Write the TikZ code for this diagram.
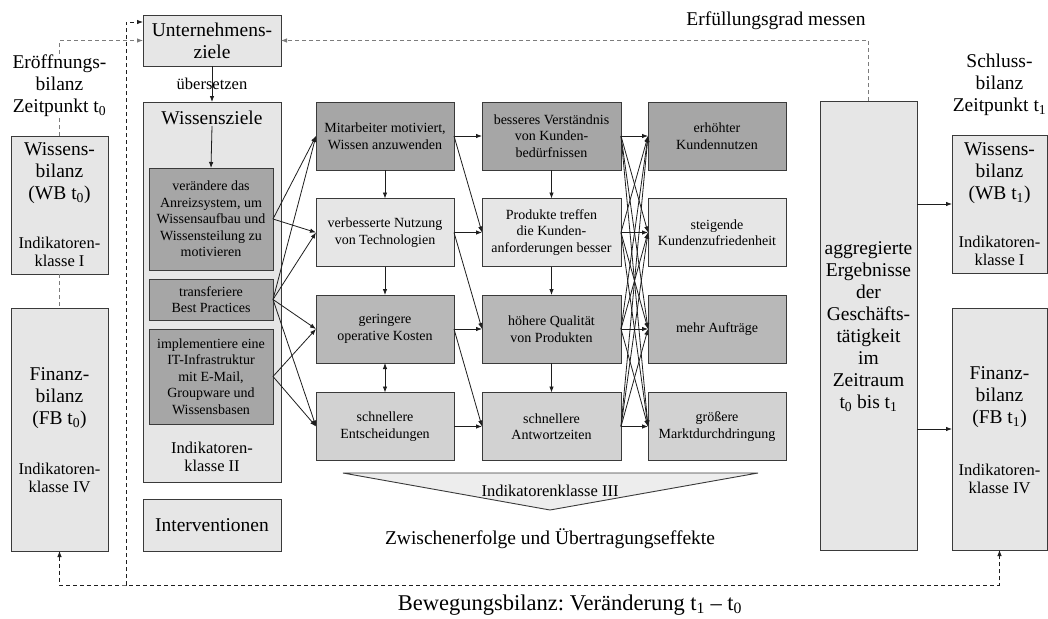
\documentclass[tikz,border=0pt]{standalone}
\usepackage{fontspec}
\setmainfont{Liberation Serif}
\usetikzlibrary{arrows.meta}

\definecolor{boxline}{HTML}{3A3A3A}
\definecolor{fillA}{HTML}{A6A6A6}
\definecolor{fillB}{HTML}{B8B8B8}
\definecolor{fillC}{HTML}{D2D2D2}
\definecolor{fillD}{HTML}{E6E6E6}
\definecolor{fillT}{HTML}{EDEDED}
\definecolor{dashgray}{HTML}{7C7C7C}
\definecolor{arrowcol}{HTML}{1E1E1E}

\newcommand\txtL{\fontsize{19.5}{22}\selectfont}
\newcommand\txtM{\fontsize{16.5}{18.5}\selectfont}
\newcommand\txtS{\fontsize{14}{16.5}\selectfont}

\frenchspacing
\begin{document}
\begin{tikzpicture}[x=1pt,y=-1pt,
  box/.style={draw=boxline, line width=0.9pt, inner sep=0pt, outer sep=0pt, align=center},
  cell/.style={box, minimum width=138pt, minimum height=68pt, font=\txtS},
  lbl/.style={align=center, inner sep=1pt},
  tip/.style={-{Latex[length=6pt,width=4.5pt]}},
  arr/.style={tip, draw=arrowcol, line width=0.8pt},
  dsh/.style={dash pattern=on 4pt off 3pt, line width=0.8pt},
]
\useasboundingbox[fill=white] (0,0) rectangle (1048,618);

% ---- corporate goals and knowledge goals
\node[box, fill=fillD, minimum width=138pt, minimum height=51pt, font=\txtL] (unt) at (212,40.5) {Unternehmens-\\ziele};
\node[box, fill=fillD, minimum width=138pt, minimum height=380pt] (wz) at (212,292) {};
\node[lbl, font=\txtL] (wzt) at (212,118) {Wissensziele};
\node[box, fill=fillA, minimum width=124pt, minimum height=102pt, font=\txtS] (ver) at (211,219) {verändere das\\Anreizsystem, um\\Wissensaufbau und\\Wissensteilung zu\\motivieren};
\node[box, fill=fillA, minimum width=124pt, minimum height=41pt, font=\txtS] (tra) at (211,299.5) {transferiere\\Best Practices};
\node[box, fill=fillA, minimum width=124pt, minimum height=95pt, font=\txtS] (imp) at (211,376.5) {implementiere eine\\IT-Infrastruktur\\mit E-Mail,\\Groupware und\\Wissensbasen};
\node[lbl, font=\txtM] (wzk) at (212,457) {Indikatoren-\\klasse II};
\node[box, fill=fillD, minimum width=138pt, minimum height=52pt, font=\txtL] (int) at (212,525) {Interventionen};

% ---- opening balance (left)
\node[lbl, font=\txtL] (eroff) at (59.5,86) {Eröffnungs-\\bilanz\\Zeitpunkt t\textsubscript{0}};
\node[box, fill=fillD, minimum width=97pt, minimum height=138pt] (wbl) at (59.5,205) {};
\node[lbl, font=\txtL] (wbla) at (59.5,173) {Wissens-\\bilanz\\(WB t\textsubscript{0})};
\node[lbl, font=\txtM] (wblb) at (59.5,252) {Indikatoren-\\klasse I};
\node[box, fill=fillD, minimum width=97pt, minimum height=243pt] (fbl) at (59.5,429.5) {};
\node[lbl, font=\txtL] (fbla) at (59.5,398) {Finanz-\\bilanz\\(FB t\textsubscript{0})};
\node[lbl, font=\txtM] (fblb) at (59.5,478) {Indikatoren-\\klasse IV};

% ---- intermediate results, three columns
\node[cell, fill=fillA] (a1) at (385,136)   {Mitarbeiter motiviert,\\Wissen anzuwenden};
\node[cell, fill=fillD] (a2) at (385,232.5) {verbesserte Nutzung\\von Technologien};
\node[cell, fill=fillB] (a3) at (385,329)   {geringere\\operative Kosten};
\node[cell, fill=fillC] (a4) at (385,426.5) {schnellere\\Entscheidungen};

\node[cell, fill=fillA, minimum width=139pt] (b1) at (551.5,136)   {besseres Verständnis\\von Kunden-\\bedürfnissen};
\node[cell, fill=fillD, minimum width=139pt] (b2) at (551.5,232.5) {Produkte treffen\\die Kunden-\\anforderungen besser};
\node[cell, fill=fillB, minimum width=139pt] (b3) at (551.5,329)   {höhere Qualität\\von Produkten};
\node[cell, fill=fillC, minimum width=139pt] (b4) at (551.5,426.5) {schnellere\\Antwortzeiten};

\node[cell, fill=fillA] (c1) at (717,136)   {erhöhter\\Kundennutzen};
\node[cell, fill=fillD] (c2) at (717,232.5) {steigende\\Kundenzufriedenheit};
\node[cell, fill=fillB] (c3) at (717,329)   {mehr Aufträge};
\node[cell, fill=fillC] (c4) at (717,426.5) {größere\\Marktdurchdringung};

% indicator class III wedge
\draw[draw=boxline, line width=0.9pt, fill=fillT] (343,473) -- (758,473) -- (550,510) -- cycle;
\node[lbl, font=\txtM] (ind3) at (550,491) {Indikatorenklasse III};
\node[lbl, font=\txtL] (zw) at (550,539) {Zwischenerfolge und Übertragungseffekte};

% ---- aggregated results and closing balance (right)
\node[box, fill=fillD, minimum width=97pt, minimum height=449pt] (agg) at (868.5,325.5) {};
\node[lbl, font=\txtL] (aggt) at (868.5,327) {aggregierte\\Ergebnisse\\der\\Geschäfts-\\tätigkeit\\im\\Zeitraum\\t\textsubscript{0} bis t\textsubscript{1}};
\node[lbl, font=\txtL] (schl) at (999.5,85) {Schluss-\\bilanz\\Zeitpunkt t\textsubscript{1}};
\node[box, fill=fillD, minimum width=95pt, minimum height=138pt] (wbr) at (999.5,204) {};
\node[lbl, font=\txtL] (wbra) at (999.5,173) {Wissens-\\bilanz\\(WB t\textsubscript{1})};
\node[lbl, font=\txtM] (wbrb) at (999.5,251) {Indikatoren-\\klasse I};
\node[box, fill=fillD, minimum width=95pt, minimum height=242pt] (fbr) at (999.5,429) {};
\node[lbl, font=\txtL] (fbra) at (999.5,397) {Finanz-\\bilanz\\(FB t\textsubscript{1})};
\node[lbl, font=\txtM] (fbrb) at (999.5,479) {Indikatoren-\\klasse IV};

\node[lbl, font=\txtL] (erf) at (776,21) {Erfüllungsgrad messen};
\node[lbl, font=\fontsize{22.5}{26}\selectfont] (bew) at (570,605) {Bewegungsbilanz: Veränderung t\textsubscript{1} -- t\textsubscript{0}};

% ---- solid connectors
\draw[arr] (unt.south) -- (wz.north) node[midway, lbl, font=\txtM] (ueb) {übersetzen};
\draw[arr] (wzt.south) -- (ver.north);

\foreach \s/\t in {ver/a1, ver/a2, tra/a1, tra/a2, tra/a3, tra/a4, imp/a3, imp/a4}
  \draw[arr] (\s.east) -- (\t.west);

\draw[arr] (a1.south) -- (a2.north);
\draw[arr] (a2.south) -- (a3.north);
\draw[arr, {Latex[length=6pt,width=4.5pt]}-{Latex[length=6pt,width=4.5pt]}] (a3.south) -- (a4.north);
\draw[arr] (b1.south) -- (b2.north);
\draw[arr] (b2.south) -- (b3.north);
\draw[arr] (b3.south) -- (b4.north);

\foreach \i in {1,...,4} \draw[arr] (a\i.east) -- (b\i.west);
\draw[arr] (a1.east) -- (b2.west);
\draw[arr] (a2.east) -- (b3.west);
\draw[arr] (a3.east) -- (b4.west);

\foreach \i in {1,...,4}
  \foreach \j in {1,...,4}
    \draw[arr] (b\i.east) -- (c\j.west);

\draw[arr] (agg.east |- wbr.west) -- (wbr.west);
\draw[arr] (agg.east |- fbr.west) -- (fbr.west);

% ---- dashed feedback lines
\coordinate (jn) at (126,585);
\draw[dsh, dashgray] (wbl.north) -- (eroff.south);
\draw[dsh, dashgray, tip] (eroff.north) |- (unt.west);
\draw[dsh, dashgray] (wbl.south) -- (fbl.north);
\draw[dsh, dashgray, tip] (agg.north) |- (unt.east);
\draw[dsh, arrowcol, tip] (jn) |- ([yshift=18.5pt]unt.west);
\draw[dsh, arrowcol, {Latex[length=6pt,width=4.5pt]}-{Latex[length=6pt,width=4.5pt]}] (fbl.south) |- (jn) -| (fbr.south);
\end{tikzpicture}
\end{document}
